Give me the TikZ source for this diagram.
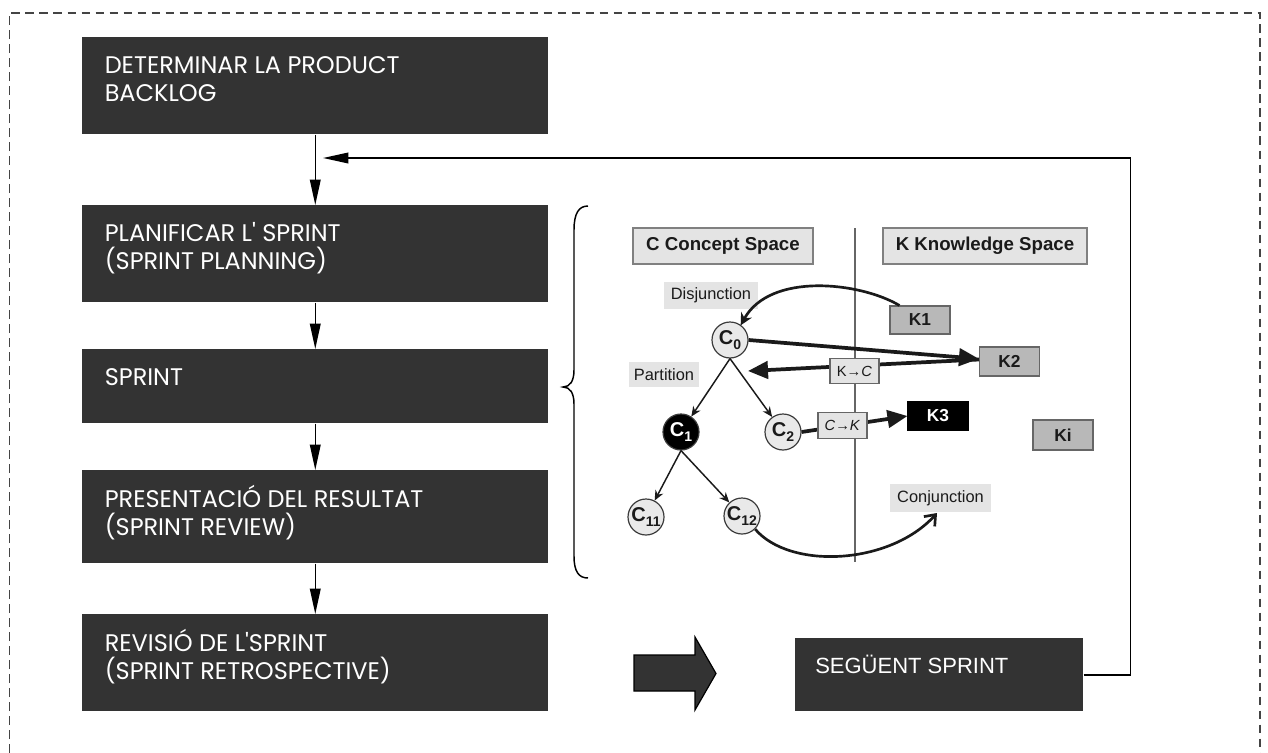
\documentclass[tikz,border=0pt]{standalone}
\usepackage{fontspec}
\setmainfont{Liberation Sans}
\newfontfamily\gothic{Poppins}
\usetikzlibrary{arrows.meta,calc}

\definecolor{stepfill}{HTML}{333333}
\definecolor{framegray}{HTML}{444444}
\definecolor{ckline}{HTML}{1A1A1A}
\definecolor{tagfill}{HTML}{E4E4E4}
\definecolor{kfill}{HTML}{B8B8B8}
\definecolor{circfill}{HTML}{E9E9E9}

\newcommand\firstlinestrut{\rule{0pt}{16pt}}
\newcommand\csub[2]{#1\raisebox{-4pt}{\fontsize{10.5}{10.5}\selectfont #2}}

\tikzset{
  frame/.style={draw=framegray, line width=1.1pt, dash pattern=on 6.5pt off 4pt},
  stepbox/.style={anchor=north west, fill=stepfill, draw=none, inner sep=0pt,
                  minimum width=349.5pt},
  steptext/.style={anchor=north west, inner sep=0pt, align=left, text=white,
                   font={\gothic\fontsize{18}{21}\selectfont}},
  flow/.style={draw=black, line width=1.1pt,
               -{Triangle[length=19pt,width=8pt]}},
  % concept--knowledge sketch
  spacebox/.style={draw=gray, fill=tagfill, line width=0.8pt, inner sep=0pt,
                   font=\bfseries\fontsize{14}{16}\selectfont, text=ckline},
  tag/.style={fill=tagfill, draw=none, inner sep=0pt,
              font=\fontsize{12.3}{14}\selectfont, text=ckline},
  kbox/.style={draw=gray!80!black, fill=kfill, line width=0.8pt, inner sep=0pt,
               minimum width=45pt, minimum height=21pt,
               font=\bfseries\fontsize{13}{15}\selectfont, text=ckline},
  opbox/.style={draw=gray!80!black, fill=tagfill, line width=0.8pt, inner sep=0pt,
                minimum width=36.75pt, minimum height=19pt,
                font=\fontsize{11}{12}\selectfont, text=ckline},
  cnode/.style={circle, draw=ckline!85, fill=circfill, line width=0.9pt,
                minimum size=27pt, inner sep=0pt,
                font=\bfseries\fontsize{15}{17}\selectfont, text=ckline},
  treearr/.style={draw=ckline, line width=1.1pt,
                  -{Stealth[length=7.5pt,width=6.5pt]}},
  boldarr/.style={draw=ckline, line width=2.8pt,
                  -{Triangle[length=15pt,width=13pt]}},
  curvarr/.style={draw=ckline, line width=2pt,
                  -{Stealth[length=9pt,width=9pt]}},
}

\begin{document}
\begin{tikzpicture}[x=0.75pt,y=-0.75pt]
\useasboundingbox (0,0) rectangle (1268,753);

% dashed outer frame, open at the bottom edge
\draw[frame] (9.5,753) -- (9.5,13) -- (1260,13) -- (1260,753);

% process steps
\node[stepbox, minimum height=72.75pt] (b1) at (82,37)  {};
\node[stepbox, minimum height=72.75pt] (b2) at (82,205) {};
\node[stepbox, minimum height=55.5pt]  (b3) at (82,349) {};
\node[stepbox, minimum height=69.75pt] (b4) at (82,470) {};
\node[stepbox, minimum height=72.75pt] (b5) at (82,614) {};

\node[steptext] (t1) at ($(b1.north west)+(22.5,14.5)$) {\firstlinestrut DETERMINAR LA PRODUCT\\BACKLOG};
\node[steptext] (t2) at ($(b2.north west)+(22.5,14.5)$) {\firstlinestrut PLANIFICAR L' SPRINT\\(SPRINT PLANNING)};
\node[steptext] (t3) at ($(b3.north west)+(22.5,14.5)$) {\firstlinestrut SPRINT};
\node[steptext] (t4) at ($(b4.north west)+(22.5,14.5)$) {\firstlinestrut PRESENTACIÓ DEL RESULTAT\\(SPRINT REVIEW)};
\node[steptext] (t5) at ($(b5.north west)+(22.5,14.5)$) {\firstlinestrut REVISIÓ DE L'SPRINT\\(SPRINT RETROSPECTIVE)};

\draw[flow] (b1.south) -- (b2.north);
\draw[flow] (b2.south) -- (b3.north);
\draw[flow] (b3.south) -- (b4.north);
\draw[flow] (b4.south) -- (b5.north);

% next sprint and loop back
\node[anchor=north west, fill=stepfill, inner sep=0pt, minimum width=216pt,
      minimum height=54.75pt] (seg) at (795,638) {};
\node[anchor=north west, inner sep=0pt, text=white,
      font=\fontsize{16.5}{18}\selectfont] (segtext) at ($(seg.north west)+(20,17)$)
      {\rule{0pt}{13pt}SEGÜENT SPRINT};
\coordinate (back) at (323,158);
\draw[flow] (seg.east) -- ++(47,0) |- (back);

% block arrow
\draw[fill=stepfill, draw=black, line width=0.9pt, line join=miter]
  (634,655) -- (695,655) -- (695,637) -- (716,673.5) -- (695,710) -- (695,691) -- (634,691) -- cycle;

% curly brace
\draw[black, line width=1.1pt]
  (588,206) .. controls (579,206) and (574,213) .. (574,230) -- (574,370)
  .. controls (574,381) and (570,387) .. (563,387)
  .. controls (570,387) and (574,393) .. (574,404) -- (574,556)
  .. controls (574,572) and (579,578) .. (588,578);

% ---- concept / knowledge sketch ----
\draw[gray!80!black, line width=0.8pt] (855,228) -- (855,562);
\node[spacebox, minimum width=135pt, minimum height=27pt] (cspace) at (723,246) {C Concept Space};
\node[spacebox, minimum width=153pt, minimum height=27pt] (kspace) at (985,246) {K Knowledge Space};

\node[tag, minimum width=70.5pt, minimum height=20.25pt] (disj) at (711,295.5) {Disjunction};
\node[tag, minimum width=52.5pt, minimum height=18.75pt] (part) at (664,374.5) {Partition};
\node[tag, minimum width=75.75pt, minimum height=21pt] (conj) at (940.5,498) {Conjunction};

\node[kbox] (k1) at (920,320) {K1};
\node[kbox, minimum height=21.75pt] (k2) at (1009.5,361.5) {K2};
\node[kbox, fill=black, draw=black, text=white] (k3) at (938,416) {K3};
\node[kbox, minimum height=22.5pt] (ki) at (1063,435) {Ki};

\node[cnode] (c0) at (730,340) {\csub{C}{0}};
\node[cnode, fill=black, text=white] (c1) at (681,432) {\csub{C}{1}};
\node[cnode] (c2) at (783,432) {\csub{C}{2}};
\node[cnode] (c11) at (646,517) {\csub{C}{11}};
\node[cnode] (c12) at (742,516) {\csub{C}{12}};

\draw[treearr] (c0.south) -- (c1);
\draw[treearr] (c0.south) -- (c2);
\draw[treearr] (c1.south) -- (c11);
\draw[treearr] (c1.south) -- (c12);

\coordinate (kctip) at (748,371);
\draw[boldarr] ([yshift=1.5pt]k2.west) -- (kctip);
\draw[boldarr] (c0.east) -- ([yshift=2pt]k2.west);
\draw[boldarr] (c2.east) -- (k3.west);

\node[opbox] (kc) at (854.5,371) {K→\textit{C}};
\node[opbox] (ck) at (842.5,425.5) {\textit{C→K}};

\draw[curvarr] ([xshift=7.5pt]k1.north west) .. controls (860,282) and (770,272) .. ([shift={(8pt,11pt)}]c0.center);
\coordinate (conjtip) at (937,513);
\draw[draw=ckline, line width=2pt, -{Straight Barb[length=7pt,width=11pt]}]
  (c12.south east) .. controls (790,570) and (890,565) .. (conjtip);

\end{tikzpicture}
\end{document}
